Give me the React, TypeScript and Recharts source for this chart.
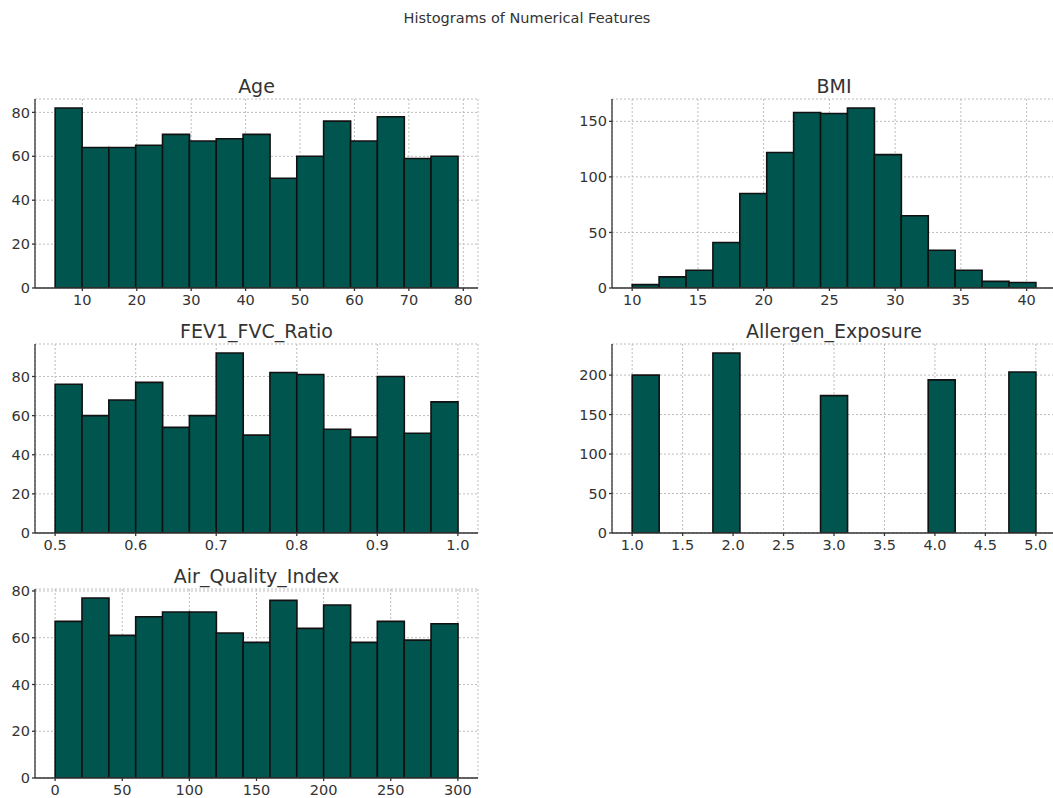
import { BarChart, Bar, XAxis, YAxis, CartesianGrid } from 'recharts';

// counts per bin (1000 rows each)
const ageCounts = [82, 64, 64, 65, 70, 67, 68, 70, 50, 60, 76, 67, 78, 59, 60];
const bmiCounts = [3, 10, 16, 41, 85, 122, 158, 157, 162, 120, 65, 34, 16, 6, 5];
const fevCounts = [76, 60, 68, 77, 54, 60, 92, 50, 82, 81, 53, 49, 80, 51, 67];
const allergenCounts = [200, 0, 0, 228, 0, 0, 0, 174, 0, 0, 0, 194, 0, 0, 204];
const aqiCounts = [67, 77, 61, 69, 71, 71, 62, 58, 76, 64, 74, 58, 67, 59, 66];

// data range (min, max) of each feature
const ageRange = [5, 79];
const bmiRange = [10, 40.7];
const fevRange = [0.5, 1.0];
const allergenRange = [1, 5];
const aqiRange = [0, 300];

// tick labels
const ageXTicks = [10, 20, 30, 40, 50, 60, 70, 80];
const bmiXTicks = [10, 15, 20, 25, 30, 35, 40];
const fevXTicks = [0.5, 0.6, 0.7, 0.8, 0.9, 1.0];
const allergenXTicks = [1, 1.5, 2, 2.5, 3, 3.5, 4, 4.5, 5];
const aqiXTicks = [0, 50, 100, 150, 200, 250, 300];

const ageYTicks = [0, 20, 40, 60, 80];
const bmiYTicks = [0, 50, 100, 150];
const fevYTicks = [0, 20, 40, 60, 80];
const allergenYTicks = [0, 50, 100, 150, 200];
const aqiYTicks = [0, 20, 40, 60, 80];

const BAR_FILL = '#01554f';
const TEXT = '#333333';
const FONT = '"DejaVu Sans", sans-serif';
const Y_AXIS_W = 45;
const X_AXIS_H = 30;
const TOP_PAD = 12;

const COL_LEFT = [35, 612];
const COL_WIDTH = [443, 444];
const ROW_TOP = [99, 344, 589];
const PLOT_H = 189;

const panels = [
  { title: 'Age', counts: ageCounts, range: ageRange, xTicks: ageXTicks, yTicks: ageYTicks, decimals: 0, col: 0, row: 0 },
  { title: 'BMI', counts: bmiCounts, range: bmiRange, xTicks: bmiXTicks, yTicks: bmiYTicks, decimals: 0, col: 1, row: 0 },
  { title: 'FEV1_FVC_Ratio', counts: fevCounts, range: fevRange, xTicks: fevXTicks, yTicks: fevYTicks, decimals: 1, col: 0, row: 1 },
  { title: 'Allergen_Exposure', counts: allergenCounts, range: allergenRange, xTicks: allergenXTicks, yTicks: allergenYTicks, decimals: 1, col: 1, row: 1 },
  { title: 'Air_Quality_Index', counts: aqiCounts, range: aqiRange, xTicks: aqiXTicks, yTicks: aqiYTicks, decimals: 0, col: 0, row: 2 },
];

type PanelDef = (typeof panels)[number];

function Histogram({ p }: { p: PanelDef }) {
  const [lo, hi] = p.range;
  const binW = (hi - lo) / p.counts.length;
  const data = p.counts.map((count, i) => ({ mid: lo + (i + 0.5) * binW, count }));
  const pad = (hi - lo) * 0.05;
  const yMax = Math.max(...p.counts) * 1.05;
  const plotW = COL_WIDTH[p.col];
  const tick = { fill: TEXT, fontSize: 14.5, fontFamily: FONT };

  return (
    <div style={{ position: 'absolute', left: COL_LEFT[p.col] - Y_AXIS_W, top: ROW_TOP[p.row] - TOP_PAD }}>
      <BarChart
        width={Y_AXIS_W + plotW + 10}
        height={PLOT_H + X_AXIS_H + TOP_PAD}
        data={data}
        margin={{ top: TOP_PAD, right: 10, bottom: 0, left: 0 }}
        barCategoryGap={0}
        barGap={0}
      >
        <CartesianGrid stroke='#bdbdbd' strokeDasharray='2 2' />
        <XAxis
          type='number'
          dataKey='mid'
          domain={[lo - pad, hi + pad]}
          ticks={p.xTicks}
          interval={0}
          allowDataOverflow
          height={X_AXIS_H}
          tick={tick}
          tickSize={3}
          tickMargin={4}
          stroke={TEXT}
          strokeWidth={1.3}
          tickFormatter={(v: number) => v.toFixed(p.decimals)}
        />
        <YAxis
          type='number'
          domain={[0, yMax]}
          ticks={p.yTicks}
          interval={0}
          allowDataOverflow
          width={Y_AXIS_W}
          tick={tick}
          tickSize={3}
          tickMargin={2}
          stroke={TEXT}
          strokeWidth={1.3}
        />
        <Bar dataKey='count' fill={BAR_FILL} stroke='#111111' strokeWidth={1.6} isAnimationActive={false} />
      </BarChart>
    </div>
  );
}

export default function App() {
  return (
    <div
      style={{
        position: 'absolute',
        left: 0,
        top: 0,
        width: 1053,
        height: 798,
        overflow: 'hidden',
        background: '#ffffff',
      }}
    >
      {panels.map((p) => (
        <Histogram key={p.title} p={p} />
      ))}
      <svg width={1053} height={798} style={{ position: 'absolute', left: 0, top: 0, pointerEvents: 'none' }}>
        <text x={527} y={22.5} textAnchor='middle' fontSize={14.5} fontFamily={FONT} fill={TEXT}>
          Histograms of Numerical Features
        </text>
        {panels.map((p) => (
          <text
            key={p.title}
            x={COL_LEFT[p.col] + COL_WIDTH[p.col] / 2}
            y={ROW_TOP[p.row] - 6.5}
            textAnchor='middle'
            fontSize={19}
            fontFamily={FONT}
            fill={TEXT}
          >
            {p.title}
          </text>
        ))}
      </svg>
    </div>
  );
}
